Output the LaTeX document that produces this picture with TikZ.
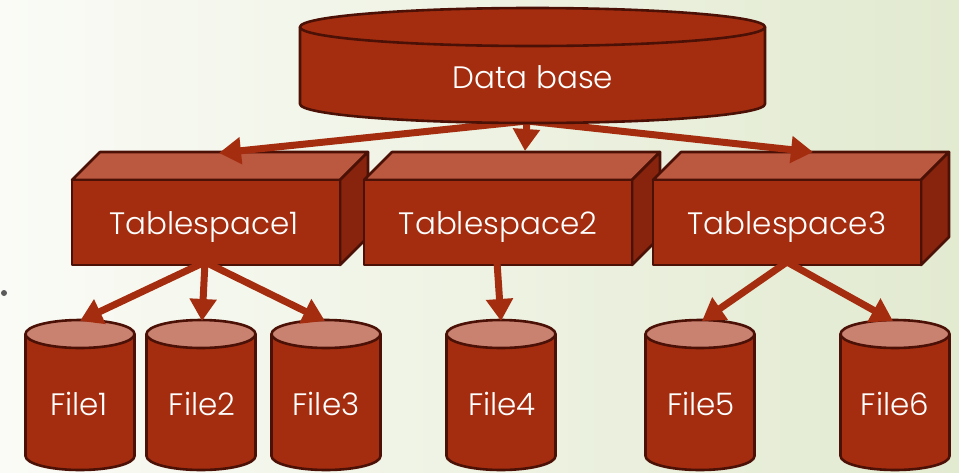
\documentclass[tikz,border=0pt]{standalone}
\usepackage{fontspec}
\setmainfont{Poppins Light}
\usetikzlibrary{arrows.meta}
\definecolor{redmain}{RGB}{165,45,15}
\definecolor{outl}{RGB}{75,16,6}
\definecolor{topface}{RGB}{186,88,64}
\definecolor{sideface}{RGB}{136,36,13}
\definecolor{cyltop}{RGB}{202,130,112}
\definecolor{bgl}{RGB}{250,251,246}
\definecolor{bgr}{RGB}{226,234,208}
\definecolor{dotgray}{RGB}{90,90,90}
\tikzset{
  shapeline/.style={draw=outl, line width=2.6pt, line join=round},
  conn/.style={draw=redmain, line width=7pt, -{Triangle[width=26pt,length=22pt]}},
  lbl/.style={text=white, font=\fontsize{31}{36}\selectfont, anchor=base, inner sep=0pt}
}
% cylinder: cx, ytop, ybot, rx, ry, topfill
\newcommand\mycyl[6]{%
  \filldraw[shapeline, fill=redmain] ({#1-#4},#2) -- ({#1-#4},#3)
    .. controls ({#1-#4},{#3+0.5523*#5}) and ({#1-0.5523*#4},{#3+#5}) .. (#1,{#3+#5})
    .. controls ({#1+0.5523*#4},{#3+#5}) and ({#1+#4},{#3+0.5523*#5}) .. ({#1+#4},#3)
    -- ({#1+#4},#2) -- cycle;
  \filldraw[shapeline, fill=#6] (#1,#2) ellipse [x radius=#4, y radius=#5];
}
% box: xleft, ytop, w, h, depth
\newcommand\mybox[5]{%
  \filldraw[shapeline, fill=topface] (#1,#2) -- ({#1+#5},{#2-#5}) -- ({#1+#3+#5},{#2-#5}) -- ({#1+#3},#2) -- cycle;
  \filldraw[shapeline, fill=sideface] ({#1+#3},#2) -- ({#1+#3+#5},{#2-#5}) -- ({#1+#3+#5},{#2+#4-#5}) -- ({#1+#3},{#2+#4}) -- cycle;
  \filldraw[shapeline, fill=redmain] (#1,#2) rectangle ({#1+#3},{#2+#4});
}
\begin{document}
\begin{tikzpicture}[x=1pt,y=-1pt]
\useasboundingbox (0,0) rectangle (959,472);
\shade[left color=bgl, right color=bgr] (0,0) rectangle (959,472);
\fill[dotgray] (4,293) circle [radius=3];

% tablespaces
\mybox{72}{180}{268}{85}{28}
\mybox{364}{180}{268}{85}{28}
\mybox{653}{180}{268}{85}{28}

% files
\mycyl{80}{334}{456}{54.5}{14}{cyltop}
\mycyl{201}{334}{456}{54.5}{14}{cyltop}
\mycyl{326}{334}{456}{54.5}{14}{cyltop}
\mycyl{501}{334}{456}{54.5}{14}{cyltop}
\mycyl{700}{334}{456}{54.5}{14}{cyltop}
\mycyl{895}{334}{456}{54.5}{14}{cyltop}

% connector coordinates
\coordinate (dbb) at (527,121);
\coordinate (ts1t) at (219,153);
\coordinate (ts2t) at (525,151);
\coordinate (ts3t) at (813,152);
\coordinate (ts1b) at (205,262);
\coordinate (ts2b) at (497,262);
\coordinate (ts3b) at (787,262);
\coordinate (f1t) at (80,321);
\coordinate (f2t) at (202,321);
\coordinate (f3t) at (325,321);
\coordinate (f4t) at (501,321);
\coordinate (f5t) at (702,321);
\coordinate (f6t) at (893,321);

\draw[conn] (ts1b) -- (f1t);
\draw[conn] (ts1b) -- (f2t);
\draw[conn] (ts1b) -- (f3t);
\draw[conn] (ts2b) -- (f4t);
\draw[conn] (ts3b) -- (f5t);
\draw[conn] (ts3b) -- (f6t);

\draw[conn] (dbb) -- (ts1t);
\draw[conn] (dbb) -- (ts2t);
\draw[conn] (dbb) -- (ts3t);

% database
\mycyl{532.5}{27}{104}{232.5}{19}{redmain}

% labels
\node[lbl] (db) at (533,88) {Data base};
\node[lbl] (ts1) at (204,234) {Tablespace1};
\node[lbl] (ts2) at (498,234) {Tablespace2};
\node[lbl] (ts3) at (787,234) {Tablespace3};
\node[lbl] (f1) at (79,415) {File1};
\node[lbl] (f2) at (202,415) {File2};
\node[lbl] (f3) at (326,415) {File3};
\node[lbl] (f4) at (502,415) {File4};
\node[lbl] (f5) at (701,415) {File5};
\node[lbl] (f6) at (895,415) {File6};
\end{tikzpicture}
\end{document}
